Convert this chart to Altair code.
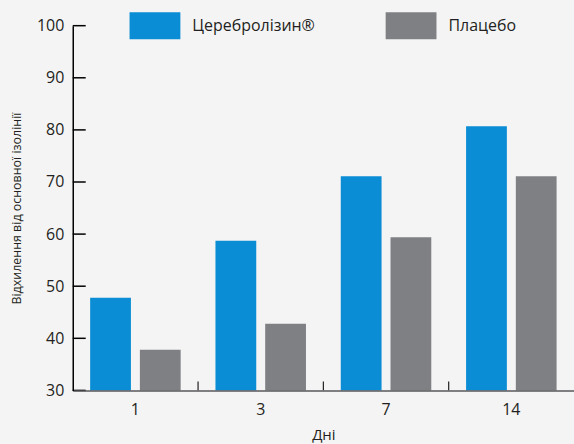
import altair as alt
import pandas as pd

days = ["1", "3", "7", "14"]
groups = ["Церебролізин®", "Плацебо"]
cerebrolysin = [47.8, 58.7, 71.1, 80.7]
placebo = [37.8, 42.8, 59.4, 71.1]
y_ticks = [30, 40, 50, 60, 70, 80, 90, 100]
inner_ticks = ["3", "7", "14"]

colors = ["#0a8dd4", "#7f8084"]
FONT = "Open Sans"
TXT = "#231f20"
W, H = 503, 366

rows = []
for d, v in zip(days, cerebrolysin):
    rows.append({"day": d, "group": groups[0], "value": v})
for d, v in zip(days, placebo):
    rows.append({"day": d, "group": groups[1], "value": v})
df = pd.DataFrame(rows)

xscale = alt.Scale(domain=days, paddingInner=0, paddingOuter=0)
yscale = alt.Scale(domain=[30, 100], nice=False, zero=False, clamp=True)

bars = alt.Chart(df).mark_bar().encode(
    x=alt.X("day:N", scale=xscale, sort=days,
            axis=alt.Axis(title="Дні", labelAngle=0, ticks=False, domain=True,
                          domainColor="#58595b", domainWidth=1.5,
                          labelFont=FONT, labelFontSize=16, labelColor=TXT, labelPadding=11,
                          titleFont=FONT, titleFontSize=15, titleFontWeight="normal",
                          titleColor=TXT, titleX=W / 2, titleY=44, titleBaseline="middle",
                          zindex=1)),
    xOffset=alt.XOffset("group:N", sort=groups,
                        scale=alt.Scale(paddingInner=0.18, paddingOuter=0.35)),
    y=alt.Y("value:Q", scale=yscale,
            axis=alt.Axis(title="Відхилення від основної ізолінії", values=y_ticks,
                          ticks=False, grid=False, domain=True, domainColor="#000000",
                          domainWidth=1.5, labelFont=FONT, labelFontSize=16,
                          labelColor=TXT, labelPadding=9,
                          titleFont=FONT, titleFontSize=12.5, titleFontWeight="normal",
                          titleColor=TXT, titleX=-56, titleY=H / 2,
                          titleAlign="center", titleBaseline="middle", zindex=1)),
    color=alt.Color("group:N", sort=groups,
                    scale=alt.Scale(domain=groups, range=colors),
                    legend=alt.Legend(title=None, orient="none", direction="horizontal",
                                      legendX=57, legendY=-26,
                                      symbolType="M-1,-0.53L1,-0.53L1,0.53L-1,0.53Z",
                                      symbolSize=2601, symbolStrokeWidth=0,
                                      symbolOpacity=1,
                                      labelFont=FONT, labelFontSize=16, labelColor=TXT,
                                      labelOffset=12, columnPadding=70, padding=0)),
)

ytick_df = pd.DataFrame({"v": y_ticks})
yticks = alt.Chart(ytick_df).mark_rule(color="#000000", strokeWidth=1.5).encode(
    y=alt.Y("v:Q", scale=yscale),
    x=alt.value(0), x2=alt.value(13),
)

xtick_df = pd.DataFrame({"day": inner_ticks})
xticks = alt.Chart(xtick_df).mark_rule(color="#231f20", strokeWidth=1.2).encode(
    x=alt.X("day:N", scale=xscale, sort=days, bandPosition=0),
    y=alt.value(H - 9), y2=alt.value(H),
)

chart = alt.layer(bars, yticks, xticks).properties(
    width=W, height=H,
    background="#f4f4f5",
    padding={"left": 73, "top": 25, "right": 0, "bottom": 53},
    autosize=alt.AutoSizeParams(type="none"),
).configure_view(stroke=None)

chart.save("out.html", embed_options={"renderer": "svg", "actions": False})
